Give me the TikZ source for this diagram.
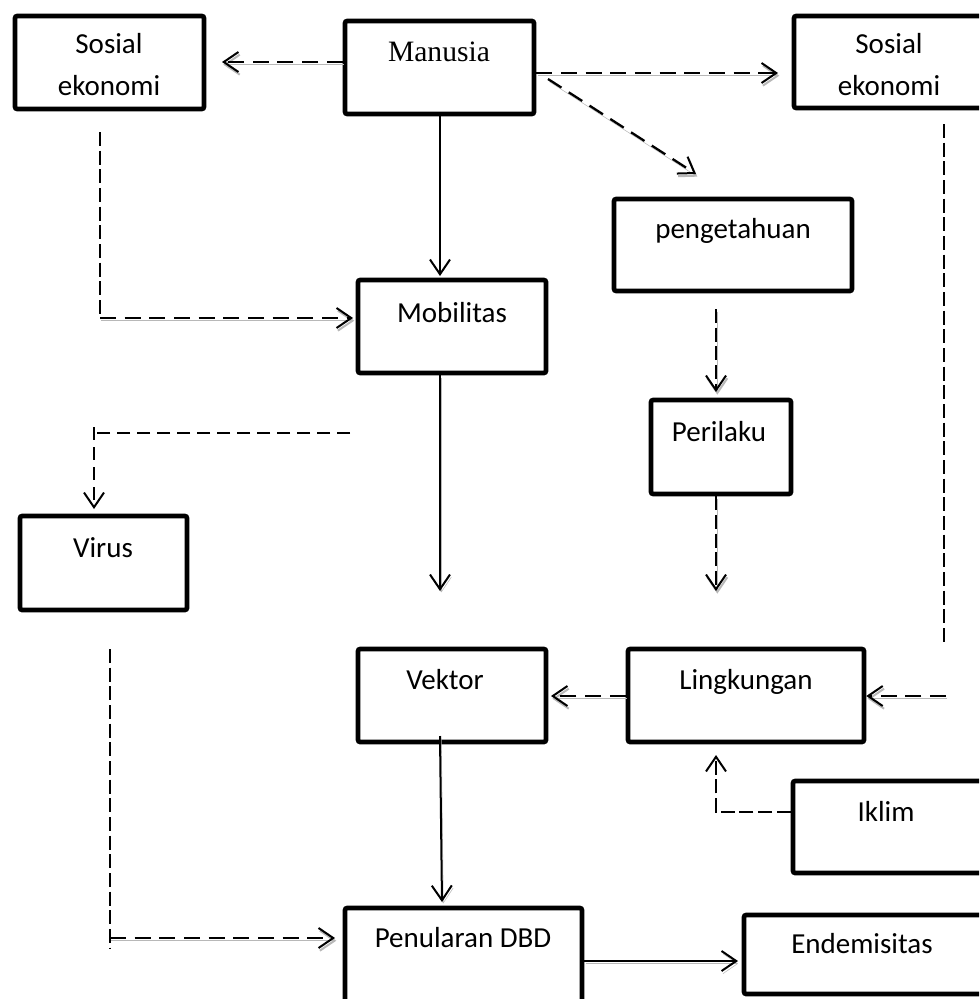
\documentclass[tikz,border=0pt]{standalone}
\usepackage{fontspec}
\setmainfont{Carlito}
\newfontfamily\timesfont{Liberation Serif}
\usetikzlibrary{arrows.meta}
\begin{document}
\begin{tikzpicture}[x=0.75pt,y=-0.75pt,
  box/.style={draw=black,line width=3.4pt,rounded corners=1.5pt,rectangle,inner sep=0pt},
  sz/.style 2 args={minimum width=#1*0.75pt,minimum height=#2*0.75pt},
  lbl/.style={anchor=base,inner sep=0pt,font=\fontsize{21.75}{26}\selectfont},
  tip/.style={-{Straight Barb[length=11pt,width=15pt,line width=1.5pt]}},
  shd/.style={preaction={draw=black!28,transform canvas={shift={(1pt,-2pt)}}}},
  solidA/.style={line width=1.5pt},
  dA/.style={line width=1.7pt,dash pattern=on 12pt off 6.5pt},
  dB/.style={line width=1.2pt,dash pattern=on 10.5pt off 3.5pt},
  dC/.style={line width=1.1pt,dash pattern=on 9.75pt off 5.25pt}
]
\useasboundingbox (0,0) rectangle (979,999);
\clip (0,0) rectangle (979,999);

% boxes
\node[box,sz={189}{93}] (sosL) at (109.5,62.5) {};
\node[box,sz={189}{93}] (manusia) at (439.5,67.5) {};
\node[box,sz={216}{92}] (sosR) at (902,62) {};
\node[box,sz={238}{92}] (penget) at (733,245) {};
\node[box,sz={188}{93}] (mobil) at (452,326.5) {};
\node[box,sz={140}{94}] (perilaku) at (721,447) {};
\node[box,sz={167}{94}] (virus) at (103.5,563) {};
\node[box,sz={188}{93}] (vektor) at (452,695.5) {};
\node[box,sz={236}{93}] (lingk) at (746,695.5) {};
\node[box,sz={217}{92}] (iklim) at (901.5,827) {};
\node[box,sz={237}{122}] (penul) at (463.5,969) {};
\node[box,sz={266}{79}] (endem) at (877,954.5) {};

% texts
\node[lbl] (sosL-a) at (109,54) {Sosial};
\node[lbl] (sosL-b) at (109,95) {ekonomi};
\node[lbl,font=\timesfont\fontsize{22.2}{26}\selectfont] (manusia-t) at (439,62) {Manusia};
\node[lbl] (sosR-a) at (889,54) {Sosial};
\node[lbl] (sosR-b) at (889,95) {ekonomi};
\node[lbl] (penget-t) at (733,238) {pengetahuan};
\node[lbl] (mobil-t) at (452,322) {Mobilitas};
\node[lbl] (perilaku-t) at (719,441) {Perilaku};
\node[lbl] (virus-t) at (103,557) {Virus};
\node[lbl] (vektor-t) at (445,689) {Vektor};
\node[lbl] (lingk-t) at (746,689) {Lingkungan};
\node[lbl] (iklim-t) at (886,821) {Iklim};
\node[lbl] (penul-t) at (463,947) {Penularan DBD};
\node[lbl] (endem-t) at (862,953) {Endemisitas};

% connectors
\coordinate (t1) at (222,62);
\draw[dA,tip,shd] (manusia.west |- t1) -- (t1);
\coordinate (t2) at (778,73);
\draw[dA,tip,shd] (manusia.east |- t2) -- (t2);
\coordinate (s3) at (548,79); \coordinate (t3) at (696,174);
\draw[dA,tip,shd] (s3) -- (t3);
\coordinate (t4) at (440,276);
\draw[solidA,tip] (t4 |- manusia.south) -- (t4);
\coordinate (s5) at (100,132); \coordinate (c5) at (100,318); \coordinate (t5) at (353,318);
\draw[dB] (s5) -- (c5);
\draw[dA,tip,shd] (c5) -- (t5);
\coordinate (t6) at (440,591);
\draw[solidA,tip,shd] (t6 |- mobil.south) -- (t6);
\coordinate (s7) at (350,433); \coordinate (c7) at (94,433);
\coordinate (c7b) at (94,427); \coordinate (t7) at (94,509);
\draw[dC] (s7) -- (c7);
\draw[dC,tip] (c7b) -- (t7);
\coordinate (s8) at (716,309); \coordinate (t8) at (716,392);
\draw[dB,tip,shd] (s8) -- (t8);
\coordinate (t9) at (716,591);
\draw[dB,tip,shd] (t9 |- perilaku.south) -- (t9);
\coordinate (s10) at (944,124); \coordinate (e10) at (944,646);
\draw[dB] (s10) -- (e10);
\coordinate (s11) at (946,696);
\draw[dA,tip,shd] (s11) -- (lingk.east |- s11);
\coordinate (t11) at (551,696);
\draw[dA,tip,shd] (lingk.west |- s11) -- (t11);
\coordinate (c12) at (716,812); \coordinate (t12) at (716,755);
\draw[dB,tip] (iklim.west |- c12) -- (c12) -- (t12);
\coordinate (s13) at (440,736); \coordinate (t13) at (442,902);
\draw[solidA,tip,shd] (s13) -- (t13);
\coordinate (s14) at (110,649); \coordinate (e14) at (110,949);
\coordinate (c14) at (110,938); \coordinate (t14) at (335,938);
\draw[dB] (s14) -- (e14);
\draw[dA,tip,shd] (c14) -- (t14);
\coordinate (t15) at (738,961);
\draw[solidA,tip,shd] (penul.east |- t15) -- (t15);
\end{tikzpicture}
\end{document}
